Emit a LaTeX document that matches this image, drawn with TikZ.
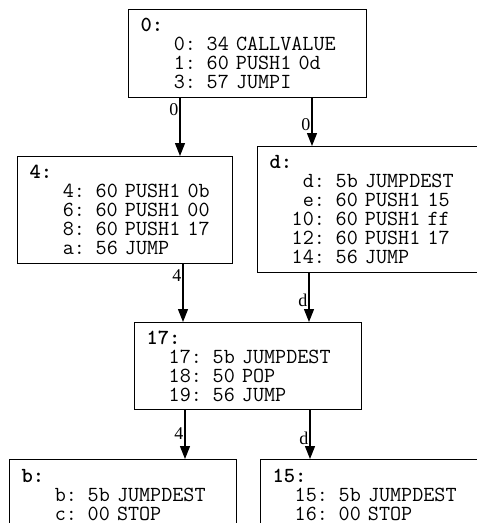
\documentclass[tikz,border=0pt]{standalone}
\usepackage{fontspec}
\setmainfont{Liberation Serif}
\usetikzlibrary{arrows.meta}

% indent by a number of monospace characters
\newcommand{\pad}[1]{\hspace*{#1\fontcharwd\font`0}}
\newcommand{\fixspace}{\spaceskip=\fontcharwd\font`0\relax\xspaceskip=\spaceskip}

\begin{document}
\begin{tikzpicture}[x=1pt,y=-1pt,
    block/.style={draw, line width=1.2pt, anchor=north west, align=left,
        inner xsep=12pt, inner ysep=0pt,
        font=\fontsize{21.5}{19}\selectfont\ttfamily\fixspace},
    edge/.style={line width=1.2pt, -{Triangle[length=13pt,width=10pt]}},
    lbl/.style={font=\fontsize{18}{18}\selectfont, inner sep=1pt, anchor=east}]
    \useasboundingbox (0,0) rectangle (477,523);
    \clip (0,0) rectangle (477,523);

    % Basic blocks
    \node[block, text width=214pt, minimum height=88pt] (n0) at (128,9)
        {\textbf{0:}\\ \pad{3}0: 34 CALLVALUE\\ \pad{3}1: 60 PUSH1 0d\\ \pad{3}3: 57 JUMPI};
    \node[block, text width=191pt, minimum height=107pt] (n4) at (17,156)
        {\textbf{4:}\\ \pad{3}4: 60 PUSH1 0b\\ \pad{3}6: 60 PUSH1 00\\ \pad{3}8: 60 PUSH1 17\\ \pad{3}a: 56 JUMP};
    \node[block, text width=209pt, minimum height=126pt] (nd) at (257,146)
        {\textbf{d:}\\ \pad{3}d: 5b JUMPDEST\\ \pad{3}e: 60 PUSH1 15\\ \pad{2}10: 60 PUSH1 ff\\ \pad{2}12: 60 PUSH1 17\\ \pad{2}14: 56 JUMP};
    \node[block, text width=203pt, minimum height=87pt] (n17) at (134,322)
        {\textbf{17:}\\ \pad{2}17: 5b JUMPDEST\\ \pad{2}18: 50 POP\\ \pad{2}19: 56 JUMP};
    \node[block, text width=203pt, minimum height=70pt] (nb) at (9,459)
        {\textbf{b:}\\ \pad{3}b: 5b JUMPDEST\\ \pad{3}c: 00 STOP};
    \node[block, text width=209pt, minimum height=70pt] (n15) at (260,459)
        {\textbf{15:}\\ \pad{2}15: 5b JUMPDEST\\ \pad{2}16: 00 STOP};

    % Jumps
    \draw[edge] ([xshift=52pt]n0.south west) -- ([xshift=163pt]n4.north west)
        node[lbl, pos=0.19] {0};
    \draw[edge] ([xshift=184pt]n0.south west) -- ([xshift=55pt]nd.north west)
        node[lbl, pos=0.55] {0};
    \draw[edge] ([xshift=166pt]n4.south west) -- ([xshift=49pt]n17.north west)
        node[lbl, pos=0.19] {4};
    \draw[edge] ([xshift=52pt]nd.south west) -- ([xshift=175pt]n17.north west)
        node[lbl, pos=0.56] {d};
    \draw[edge] ([xshift=51pt]n17.south west) -- ([xshift=176pt]nb.north west)
        node[lbl, pos=0.48] {4};
    \draw[edge] ([xshift=176pt]n17.south west) -- ([xshift=50pt]n15.north west)
        node[lbl, pos=0.58] {d};
\end{tikzpicture}
\end{document}
